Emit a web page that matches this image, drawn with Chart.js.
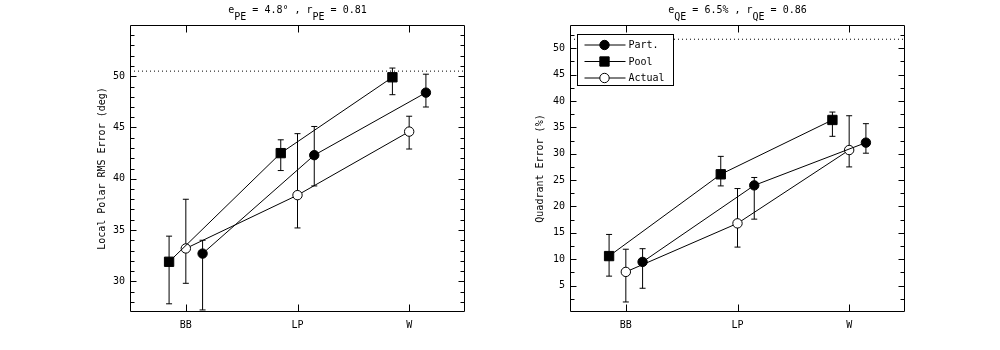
<!DOCTYPE html>
<html><head><meta charset="utf-8">
<script src="https://cdn.jsdelivr.net/npm/chart.js@4.4.1/dist/chart.umd.min.js"></script>
<style>
html,body{margin:0;padding:0;background:#fff;}
#wrap{position:relative;width:1000px;height:350px;overflow:hidden;}
.box{position:absolute;top:0;width:500px;height:350px;}
</style></head><body>
<div id="wrap">
<div class="box" style="left:0"><canvas id="c1" width="500" height="350"></canvas></div>
<div class="box" style="left:500px"><canvas id="c2" width="500" height="350"></canvas></div>
</div>
<script>
// ---------- data ----------
const categories = ['BB', 'LP', 'W'];
const seriesNames = ['Part.', 'Pool', 'Actual'];

// Left panel: Local Polar RMS Error (deg)
const pePart      = [32.7, 42.3, 48.4];
const pePartLow   = [27.2, 39.3, 47.0];
const pePartHigh  = [34.0, 45.1, 50.2];
const pePool      = [31.9, 42.5, 49.9];
const pePoolLow   = [27.8, 40.8, 48.2];
const pePoolHigh  = [34.4, 43.8, 50.8];
const peActual    = [33.2, 38.4, 44.6];
const peActualLow = [29.8, 35.2, 42.9];
const peActualHigh= [38.0, 44.4, 46.1];
const peRef = 50.5;
const peTickLabels = [30, 35, 40, 45, 50];
const peTitle = [['e', 0], ['PE', 1], [' = 4.8\u00b0 , r', 0], ['PE', 1], [' = 0.81', 0]];
const peAxisTitle = 'Local Polar RMS Error (deg)';

// Right panel: Quadrant Error (%)
const qePart      = [9.5, 24.0, 32.1];
const qePartLow   = [4.5, 17.6, 30.1];
const qePartHigh  = [12.0, 25.5, 35.7];
const qePool      = [10.6, 26.1, 36.4];
const qePoolLow   = [6.8, 23.9, 33.3];
const qePoolHigh  = [14.7, 29.5, 37.9];
const qeActual    = [7.6, 16.8, 30.7];
const qeActualLow = [1.9, 12.3, 27.5];
const qeActualHigh= [11.9, 23.4, 37.2];
const qeRef = 51.7;
const qeTickLabels = [5, 10, 15, 20, 25, 30, 35, 40, 45, 50];
const qeTitle = [['e', 0], ['QE', 1], [' = 6.5% , r', 0], ['QE', 1], [' = 0.86', 0]];
const qeAxisTitle = 'Quadrant Error (%)';

// ---------- drawing ----------
const FONT = '"DejaVu Sans Mono", monospace';
const styles = [
  { pointStyle: 'circle', radius: 4.7, fill: '#000', shift: 0.15 },
  { pointStyle: 'rect',   radius: 6.6, fill: '#000', shift: -0.15 },
  { pointStyle: 'circle', radius: 4.7, fill: '#fff', shift: 0 }
];

const panelPlugin = {
  id: 'panel',
  beforeDatasetsDraw(chart) {
    const ctx = chart.ctx, xs = chart.scales.x, ys = chart.scales.y;
    ctx.save();
    ctx.strokeStyle = '#000'; ctx.lineWidth = 1;
    chart.data.datasets.forEach(ds => {
      if (!ds.errLow) return;
      ds.data.forEach((p, i) => {
        const x = xs.getPixelForValue(p.x);
        const yl = ys.getPixelForValue(ds.errLow[i]);
        const yh = ys.getPixelForValue(ds.errHigh[i]);
        ctx.beginPath();
        ctx.moveTo(x, yl); ctx.lineTo(x, yh);
        ctx.moveTo(x - 3, yl); ctx.lineTo(x + 3, yl);
        ctx.moveTo(x - 3, yh); ctx.lineTo(x + 3, yh);
        ctx.stroke();
      });
    });
    ctx.restore();
  },
  afterDraw(chart, args, o) {
    const ctx = chart.ctx, a = chart.chartArea, xs = chart.scales.x, ys = chart.scales.y;
    ctx.save();
    ctx.strokeStyle = '#000'; ctx.lineWidth = 1;
    const L = Math.round(a.left) + 0.5, R = Math.round(a.right) - 0.5;
    const T = Math.round(a.top) + 0.5, B = Math.round(a.bottom) - 0.5;
    ctx.beginPath();
    ctx.rect(L, T, R - L, B - T);
    // y ticks inward both sides
    const n = Math.round((ys.max - ys.min) / o.minorStep);
    const start = Math.ceil(ys.min / o.minorStep - 1e-9) * o.minorStep;
    for (let v = start; v < ys.max - 1e-9; v += o.minorStep) {
      if (v <= ys.min + 1e-9) continue;
      const y = Math.round(ys.getPixelForValue(v)) + 0.5;
      const major = Math.abs(v / o.majorStep - Math.round(v / o.majorStep)) < 1e-6;
      const len = major ? 6 : 4;
      ctx.moveTo(L, y); ctx.lineTo(L + len, y);
      ctx.moveTo(R, y); ctx.lineTo(R - len, y);
    }
    // x ticks inward top/bottom
    categories.forEach((c, i) => {
      const x = Math.round(xs.getPixelForValue(i + 1)) + 0.5;
      ctx.moveTo(x, B); ctx.lineTo(x, B - 7);
      ctx.moveTo(x, T); ctx.lineTo(x, T + 7);
    });
    ctx.stroke();

    // title with subscripts
    ctx.fillStyle = '#000';
    ctx.font = '10px ' + FONT;
    ctx.textBaseline = 'alphabetic';
    ctx.textAlign = 'left';
    const total = o.title.reduce((s, p) => s + ctx.measureText(p[0]).width, 0);
    let tx = (a.left + a.right) / 2 - total / 2;
    o.title.forEach(p => {
      ctx.fillText(p[0], tx, p[1] ? 19.5 : 12.5);
      tx += ctx.measureText(p[0]).width;
    });

    // legend
    if (o.legend) {
      const lx = Math.round(a.left) + 7.5, ly = Math.round(a.top) + 9.5;
      const w = 96, h = 51;
      ctx.fillStyle = '#fff';
      ctx.fillRect(lx, ly, w, h);
      ctx.strokeStyle = '#000';
      ctx.strokeRect(lx, ly, w, h);
      seriesNames.forEach((name, i) => {
        const y = ly + 10.5 + i * 16.5;
        ctx.beginPath();
        ctx.moveTo(lx + 7, y); ctx.lineTo(lx + 48, y);
        ctx.stroke();
        const st = styles[i];
        ctx.fillStyle = st.fill; ctx.strokeStyle = '#000'; ctx.lineWidth = 1;
        Chart.helpers.drawPoint(ctx, { pointStyle: st.pointStyle, radius: st.radius, rotation: 0, borderWidth: 1 }, lx + 27, y);
        ctx.fillStyle = '#000';
        ctx.textBaseline = 'middle';
        ctx.fillText(name, lx + 51, y + 0.5);
      });
    }
    ctx.restore();
  }
};

function buildPanel(id, series, ref, yMin, yMax, tickLabels, axisTitle, opts) {
  const datasets = series.map((s, k) => ({
    label: seriesNames[k],
    data: s.values.map((v, i) => ({ x: i + 1 + styles[k].shift, y: v })),
    errLow: s.low, errHigh: s.high,
    borderColor: '#000', borderWidth: 1,
    backgroundColor: styles[k].fill,
    pointBackgroundColor: styles[k].fill,
    pointBorderColor: '#000', pointBorderWidth: 1,
    pointStyle: styles[k].pointStyle, pointRadius: styles[k].radius,
    pointHoverRadius: styles[k].radius,
    tension: 0, fill: false
  }));
  datasets.push({
    label: 'ref',
    data: [{ x: 0.5, y: ref }, { x: 3.5, y: ref }],
    borderColor: '#000', borderWidth: 1, borderDash: [1, 3],
    pointRadius: 0, fill: false
  });
  return new Chart(document.getElementById(id), {
    type: 'line',
    data: { datasets },
    plugins: [panelPlugin],
    options: {
      responsive: false, animation: false,
      layout: { padding: { top: 25, right: opts.padRight, bottom: 0, left: 0 } },
      plugins: {
        legend: { display: false }, tooltip: { enabled: false },
        panel: { title: opts.title, legend: opts.legend, minorStep: opts.minorStep, majorStep: opts.majorStep }
      },
      scales: {
        x: {
          type: 'linear', min: 0.5, max: 3.5,
          grid: { display: false, drawTicks: false }, border: { display: false },
          afterBuildTicks: s => { s.ticks = categories.map((c, i) => ({ value: i + 1 })); },
          afterFit: s => { s.height = 38; },
          ticks: {
            color: '#000', font: { family: FONT, size: 10 }, padding: 7, maxRotation: 0,
            callback: v => categories[Math.round(v) - 1]
          }
        },
        y: {
          type: 'linear', min: yMin, max: yMax,
          grid: { display: false, drawTicks: false }, border: { display: false },
          afterBuildTicks: s => { s.ticks = tickLabels.map(v => ({ value: v })); },
          afterFit: s => { s.width = opts.yWidth; },
          ticks: { color: '#000', font: { family: FONT, size: 10 }, padding: 5, callback: v => String(v) },
          title: {
            display: true, text: axisTitle, color: '#000',
            font: { family: FONT, size: 10 }, padding: { top: opts.titlePad, bottom: 0 }
          }
        }
      }
    }
  });
}

buildPanel('c1', [
  { values: pePart, low: pePartLow, high: pePartHigh },
  { values: pePool, low: pePoolLow, high: pePoolHigh },
  { values: peActual, low: peActualLow, high: peActualHigh }
], peRef, 27, 55, peTickLabels, peAxisTitle,
{ padRight: 35, yWidth: 130, titlePad: 96, title: peTitle, legend: false, minorStep: 1, majorStep: 5 });

buildPanel('c2', [
  { values: qePart, low: qePartLow, high: qePartHigh },
  { values: qePool, low: qePoolLow, high: qePoolHigh },
  { values: qeActual, low: qeActualLow, high: qeActualHigh }
], qeRef, 0, 54.4, qeTickLabels, qeAxisTitle,
{ padRight: 95, yWidth: 70, titlePad: 34, title: qeTitle, legend: true, minorStep: 2.5, majorStep: 5 });
</script>
</body></html>
